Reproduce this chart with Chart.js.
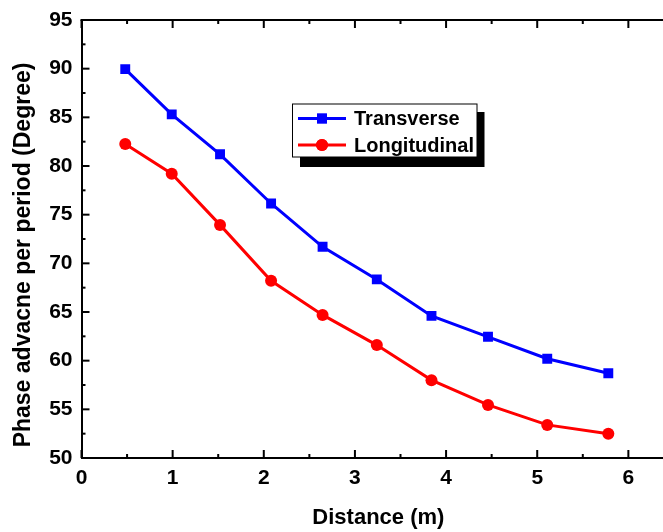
<!DOCTYPE html>
<html>
<head>
<meta charset="utf-8">
<script src="https://cdn.jsdelivr.net/npm/chart.js@4.4.0/dist/chart.umd.min.js"></script>
<style>
html, body { margin: 0; padding: 0; background: #fff; }
#wrap { width: 663px; height: 532px; }
</style>
</head>
<body>
<div id="wrap"><canvas id="myChart" width="663" height="532"></canvas></div>
<script>
'use strict';

// values
let distance = [0.48, 0.99, 1.52, 2.08, 2.645, 3.24, 3.84, 4.46, 5.11, 5.78];
let transverse = [89.95, 85.3, 81.2, 76.15, 71.7, 68.35, 64.6, 62.45, 60.2, 58.7];
let longitudinal = [82.25, 79.2, 73.95, 68.2, 64.7, 61.6, 58.0, 55.45, 53.4, 52.5];
let seriesNames = ['Transverse', 'Longitudinal'];
let xTicks = [0, 1, 2, 3, 4, 5, 6];
let yTicks = [50, 55, 60, 65, 70, 75, 80, 85, 90, 95];

let fontFamily = '"Liberation Sans", Arial, sans-serif';

function toPoints(xs, ys) {
    let pts = [];
    for (let i = 0; i < xs.length; i++) {
        pts.push({ x: xs[i], y: ys[i] });
    }
    return pts;
}

// inward tick marks (major + minor) on all visible sides, and the top frame line
let frameTicks = {
    id: 'frameTicks',
    afterDraw(chart) {
        let ctx = chart.ctx;
        let area = chart.chartArea;
        let xs = chart.scales.x;
        let ys = chart.scales.y;
        ctx.save();
        ctx.strokeStyle = '#000';
        ctx.lineWidth = 2;
        ctx.beginPath();
        ctx.moveTo(area.left - 1, area.top);
        ctx.lineTo(area.right, area.top);
        ctx.stroke();

        for (let v = 0; v <= 6.5; v += 0.5) {
            let px = xs.getPixelForValue(v);
            if (px > area.right) continue;
            let len = Number.isInteger(v) ? 8 : 4;
            ctx.beginPath();
            ctx.moveTo(px, area.bottom);
            ctx.lineTo(px, area.bottom - len);
            ctx.moveTo(px, area.top);
            ctx.lineTo(px, area.top + len);
            ctx.stroke();
        }
        for (let v = 50; v <= 95; v += 2.5) {
            let py = ys.getPixelForValue(v);
            let len = (v % 5 === 0) ? 8 : 4;
            ctx.beginPath();
            ctx.moveTo(area.left, py);
            ctx.lineTo(area.left + len, py);
            ctx.stroke();
        }
        ctx.restore();
    }
};

// framed legend with drop shadow inside the plot
let boxLegend = {
    id: 'boxLegend',
    afterDraw(chart) {
        let ctx = chart.ctx;
        let bx = 292.5, by = 104, bw = 184.5, bh = 53;
        ctx.save();
        ctx.fillStyle = '#000';
        ctx.fillRect(bx + 7.5, by + 8, bw, bh + 2);
        ctx.fillStyle = '#fff';
        ctx.fillRect(bx, by, bw, bh);
        ctx.strokeStyle = '#000';
        ctx.lineWidth = 1;
        ctx.strokeRect(bx, by, bw, bh);

        let rows = [118.5, 145];
        chart.data.datasets.forEach(function (ds, i) {
            let y = rows[i];
            ctx.strokeStyle = ds.borderColor;
            ctx.lineWidth = 3;
            ctx.beginPath();
            ctx.moveTo(298, y);
            ctx.lineTo(346, y);
            ctx.stroke();
            ctx.fillStyle = ds.pointBackgroundColor;
            Chart.helpers.drawPoint(ctx, { pointStyle: ds.pointStyle, radius: ds.pointRadius, borderWidth: 0 }, 322, y);
            ctx.fill();
            ctx.fillStyle = '#000';
            ctx.font = 'bold 20px ' + fontFamily;
            ctx.textBaseline = 'middle';
            ctx.textAlign = 'left';
            ctx.fillText(ds.label, 354, y + 1);
        });
        ctx.restore();
    }
};

let ctx = document.getElementById('myChart').getContext('2d');
let myChart = new Chart(ctx, {
    type: 'line',
    data: {
        datasets: [{
            label: seriesNames[0],
            data: toPoints(distance, transverse),
            borderColor: '#0000ff',
            backgroundColor: '#0000ff',
            pointBackgroundColor: '#0000ff',
            pointBorderColor: '#0000ff',
            pointBorderWidth: 0,
            pointStyle: 'rect',
            pointRadius: 7,
            borderWidth: 3,
            tension: 0
        }, {
            label: seriesNames[1],
            data: toPoints(distance, longitudinal),
            borderColor: '#ff0000',
            backgroundColor: '#ff0000',
            pointBackgroundColor: '#ff0000',
            pointBorderColor: '#ff0000',
            pointBorderWidth: 0,
            pointStyle: 'circle',
            pointRadius: 6,
            borderWidth: 3,
            tension: 0
        }]
    },
    options: {
        responsive: false,
        animation: false,
        devicePixelRatio: 1,
        layout: { autoPadding: false, padding: { top: 20, right: 0, left: 0, bottom: 0 } },
        plugins: {
            legend: { display: false },
            tooltip: { enabled: false }
        },
        scales: {
            x: {
                type: 'linear',
                min: 0,
                max: 6.38,
                afterBuildTicks: function (scale) {
                    scale.ticks = xTicks.map(function (v) { return { value: v }; });
                },
                afterFit: function (scale) {
                    scale.height = 74;
                    scale.paddingLeft = 0;
                    scale.paddingRight = 0;
                },
                grid: { display: true, drawOnChartArea: false, drawTicks: false },
                border: { display: true, color: '#000', width: 2 },
                ticks: {
                    color: '#000',
                    padding: 8,
                    maxRotation: 0,
                    font: { family: fontFamily, size: 21, weight: 'bold' }
                },
                title: {
                    display: true,
                    text: '  Distance (m)',
                    color: '#000',
                    padding: { top: 0, bottom: 1 },
                    font: { family: fontFamily, size: 22, weight: 'bold' }
                }
            },
            y: {
                min: 50,
                max: 95,
                afterBuildTicks: function (scale) {
                    scale.ticks = yTicks.map(function (v) { return { value: v }; });
                },
                afterFit: function (scale) {
                    scale.width = 81.5;
                    scale.paddingTop = 0;
                    scale.paddingBottom = 0;
                },
                grid: { display: true, drawOnChartArea: false, drawTicks: false },
                border: { display: true, color: '#000', width: 2 },
                ticks: {
                    color: '#000',
                    padding: 9,
                    font: { family: fontFamily, size: 21, weight: 'bold' }
                },
                title: {
                    display: true,
                    text: 'Phase advacne per period (Degree)     ',
                    color: '#000',
                    padding: { top: 10, bottom: 0 },
                    font: { family: fontFamily, size: 23, weight: 'bold' }
                }
            }
        }
    },
    plugins: [frameTicks, boxLegend]
});
</script>
</body>
</html>
